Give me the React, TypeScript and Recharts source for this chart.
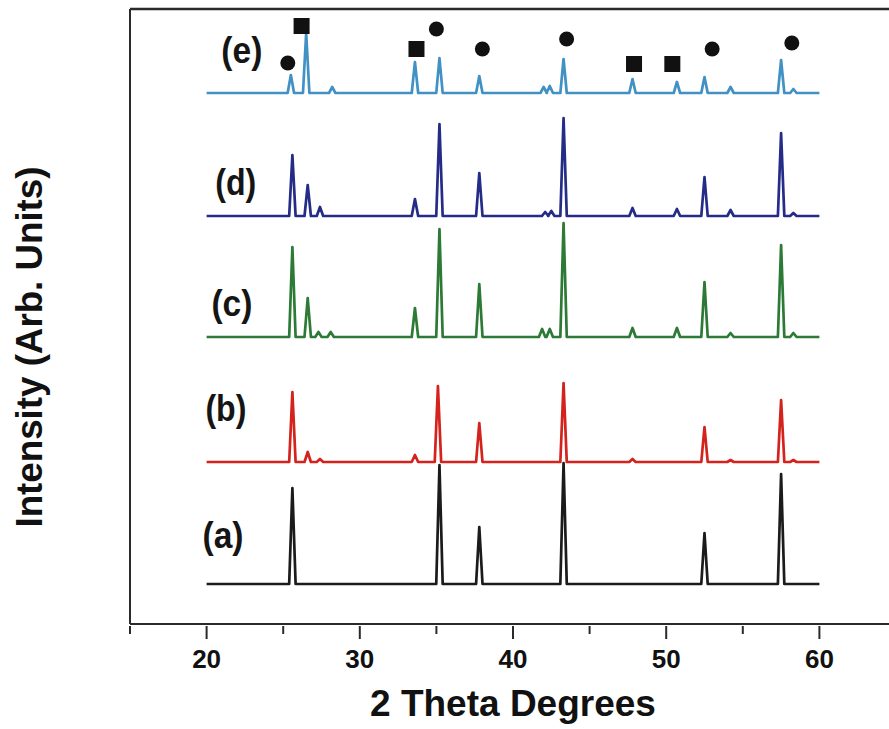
import { ComposedChart, Line, Scatter, XAxis, YAxis, ReferenceLine, Label } from "recharts";

// sample traces, bottom to top
const samples = ["(a)", "(b)", "(c)", "(d)", "(e)"];
const offsets = [40, 162, 287, 408, 531];
const colors = ["#1b1b1b", "#d3231c", "#2c7a35", "#242c88", "#4291c5"];

// peak positions (2θ) and peak heights above each trace's baseline
const peaksA = [25.6, 35.2, 37.8, 43.3, 52.5, 57.5];
const heightsA = [96, 119, 57, 121, 51, 110];
const peaksB = [25.6, 26.6, 27.4, 33.6, 35.1, 37.8, 43.3, 47.8, 52.5, 54.2, 57.5, 58.3];
const heightsB = [70, 10, 3, 7, 76, 39, 79, 3, 35, 2, 62, 2];
const peaksC = [25.6, 26.6, 27.3, 28.1, 33.6, 35.2, 37.8, 41.9, 42.4, 43.3, 47.8, 50.7, 52.5, 54.2, 57.5, 58.3];
const heightsC = [90, 39, 5, 5, 29, 108, 53, 8, 8, 114, 9, 9, 55, 4, 92, 4];
const peaksD = [25.6, 26.6, 27.4, 33.6, 35.2, 37.8, 42.1, 42.5, 43.3, 47.8, 50.7, 52.5, 54.2, 57.5, 58.3];
const heightsD = [61, 31, 9, 17, 92, 43, 4, 5, 98, 8, 7, 39, 6, 83, 3];
const peaksE = [25.5, 26.5, 28.2, 33.6, 35.2, 37.8, 42.0, 42.4, 43.3, 47.8, 50.7, 52.5, 54.2, 57.5, 58.3];
const heightsE = [18, 60, 6, 31, 35, 17, 6, 7, 34, 14, 11, 16, 6, 33, 4];

// phase markers over trace (e)
const circleX = [25.3, 35.0, 38.0, 43.5, 53.0, 58.2];
const circleY = [561, 595, 575, 585, 575, 581];
const squareX = [26.2, 33.7, 47.9, 50.4];
const squareY = [598, 575, 560, 560];

// sample label anchors
const labelX = [21.07, 21.26, 21.65, 21.9, 22.3];
const labelY = [76, 203, 308, 429, 561];

const xTicks = [15, 20, 25, 30, 35, 40, 45, 50, 55, 60, 65];
const majorTicks = [20, 30, 40, 50, 60];

const scanStart = 20;
const scanEnd = 60;
const halfBase = 0.21;

const axisColor = "#2a2a2a";
const font = "'Liberation Sans', Arial, sans-serif";

const buildTrace = (offset: number, peaks: number[], heights: number[]) => {
	const pts = [{ x: scanStart, y: offset }];
	peaks.forEach((p, i) => {
		pts.push({ x: p - halfBase, y: offset });
		pts.push({ x: p, y: offset + heights[i] });
		pts.push({ x: p + halfBase, y: offset });
	});
	pts.push({ x: scanEnd, y: offset });
	return pts;
};

const traces = [
	buildTrace(offsets[0], peaksA, heightsA),
	buildTrace(offsets[1], peaksB, heightsB),
	buildTrace(offsets[2], peaksC, heightsC),
	buildTrace(offsets[3], peaksD, heightsD),
	buildTrace(offsets[4], peaksE, heightsE),
];

const circles = circleX.map((x, i) => ({ x, y: circleY[i] }));
const squares = squareX.map((x, i) => ({ x, y: squareY[i] }));
const labels = samples.map((text, i) => ({ x: labelX[i], y: labelY[i], text }));

const XTick = (props: any) => {
	const { x, y, payload } = props;
	const major = majorTicks.includes(payload.value);
	return (
		<g>
			<line x1={x} x2={x} y1={y} y2={y + (major ? 13 : 8)} stroke={axisColor} strokeWidth={2} />
			{major && (
				<text x={x} y={y + 42} textAnchor="middle" fontFamily={font} fontWeight="bold" fontSize={26} fill="#111">
					{payload.value}
				</text>
			)}
		</g>
	);
};

const App = () => {
	return (
		<div style={{ position: "absolute", left: 0, top: 0, width: 889, height: 729, overflow: "hidden", background: "#fff" }}>
			<ComposedChart width={896} height={729} margin={{ top: 9, right: 0, bottom: 0, left: 0 }}>
				<XAxis
					dataKey="x"
					type="number"
					domain={[15, 65]}
					ticks={xTicks}
					interval={0}
					height={105}
					tickSize={0}
					tickLine={false}
					axisLine={{ stroke: axisColor, strokeWidth: 2 }}
					tick={XTick}
				>
					<Label
						content={() => (
							<text x={513} y={716} textAnchor="middle" fontFamily={font} fontWeight="bold" fontSize={37} fill="#111">
								2 Theta Degrees
							</text>
						)}
					/>
				</XAxis>
				<YAxis
					type="number"
					domain={[0, 615]}
					allowDataOverflow
					width={130}
					tick={false}
					tickLine={false}
					axisLine={{ stroke: axisColor, strokeWidth: 2 }}
				>
					<Label
						content={() => (
							<text
								x={42}
								y={347}
								transform="rotate(-90 42 347)"
								textAnchor="middle"
								fontFamily={font}
								fontWeight="bold"
								fontSize={36}
								fill="#111"
								textLength={361}
								lengthAdjust="spacingAndGlyphs"
							>
								Intensity (Arb. Units)
							</text>
						)}
					/>
				</YAxis>
				<ReferenceLine y={615} stroke={axisColor} strokeWidth={2.5} ifOverflow="visible" />
				{traces.map((data, i) => (
					<Line
						key={samples[i]}
						data={data}
						dataKey="y"
						type="linear"
						stroke={colors[i]}
						strokeWidth={2.7}
						strokeLinejoin="round"
						dot={false}
						activeDot={false}
						isAnimationActive={false}
					/>
				))}
				<Scatter
					data={circles}
					dataKey="y"
					isAnimationActive={false}
					shape={(p: any) => <circle cx={p.cx} cy={p.cy} r={7.5} fill="#111" />}
				/>
				<Scatter
					data={squares}
					dataKey="y"
					isAnimationActive={false}
					shape={(p: any) => <rect x={p.cx - 8} y={p.cy - 8} width={16} height={16} fill="#111" />}
				/>
				<Scatter
					data={labels}
					dataKey="y"
					isAnimationActive={false}
					shape={(p: any) => (
						<text
							x={p.cx}
							y={p.cy}
							textAnchor="middle"
							fontFamily={font}
							fontWeight="bold"
							fontSize={36}
							fill="#151515"
							textLength={41}
							lengthAdjust="spacingAndGlyphs"
						>
							{p.payload.text}
						</text>
					)}
				/>
			</ComposedChart>
		</div>
	);
};

export default App;
